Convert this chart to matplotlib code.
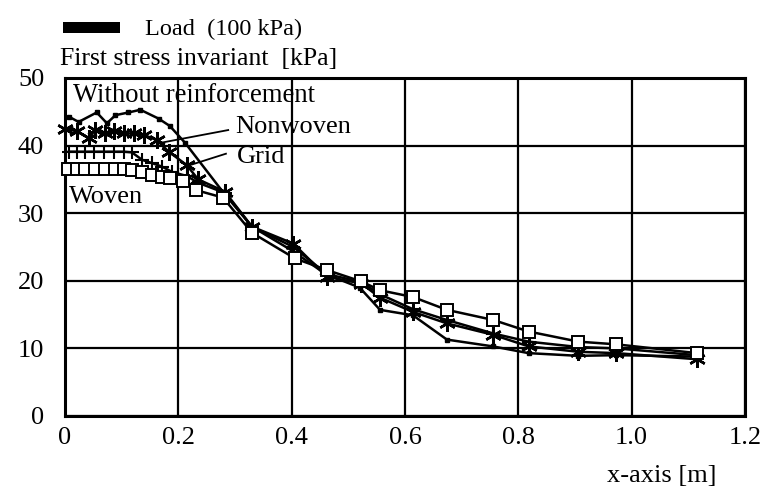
import matplotlib
matplotlib.use("Agg")
import matplotlib.pyplot as plt
from matplotlib.patches import Rectangle

plt.rcParams['font.family'] = ['Liberation Serif', 'DejaVu Serif']

# ---- data ----
x_without = [0.0065, 0.024, 0.056, 0.074, 0.089, 0.112, 0.133, 0.165, 0.185, 0.212,
             0.28, 0.33, 0.40, 0.46, 0.52, 0.556, 0.614, 0.674, 0.755, 0.818, 0.906, 0.973, 1.112]
y_without = [44.3, 43.5, 44.9, 43.3, 44.5, 44.9, 45.3, 44.0, 42.9, 40.4,
             33.0, 28.0, 24.5, 21.0, 19.0, 15.7, 14.9, 11.3, 10.3, 9.3, 8.9, 9.0, 8.8]

x_nonwoven = [0.0, 0.021, 0.042, 0.053, 0.071, 0.086, 0.104, 0.121, 0.139, 0.162, 0.183,
              0.215, 0.235, 0.282, 0.33, 0.403, 0.462, 0.523, 0.556, 0.614, 0.674, 0.756,
              0.818, 0.906, 0.973, 1.115]
y_nonwoven = [42.5, 42.1, 41.1, 42.3, 41.8, 42.1, 41.8, 41.8, 41.6, 40.8, 39.1,
              37.1, 35.0, 33.2, 28.0, 25.5, 20.6, 19.6, 17.5, 15.4, 13.7, 12.0,
              10.3, 9.5, 9.3, 8.4]

x_grid = [0.0065, 0.021, 0.036, 0.051, 0.068, 0.086, 0.104, 0.118, 0.136, 0.154, 0.171,
          0.189, 0.215, 0.235, 0.282, 0.33, 0.403, 0.462, 0.523, 0.556, 0.614, 0.674,
          0.756, 0.818, 0.906, 0.973, 1.115]
y_grid = [39.1, 39.1, 39.1, 39.1, 39.1, 39.1, 39.1, 39.0, 37.9, 37.4, 36.9,
          36.1, 35.5, 34.5, 33.0, 28.0, 25.0, 21.0, 19.8, 18.0, 15.8, 14.2,
          12.2, 11.0, 10.2, 10.0, 9.0]

x_woven = [0.006, 0.021, 0.036, 0.053, 0.071, 0.089, 0.104, 0.118, 0.136, 0.154, 0.171,
           0.186, 0.209, 0.232, 0.279, 0.33, 0.406, 0.462, 0.523, 0.556, 0.614, 0.674,
           0.756, 0.818, 0.906, 0.973, 1.115]
y_woven = [36.6, 36.6, 36.6, 36.6, 36.6, 36.6, 36.5, 36.4, 36.1, 35.7, 35.4,
           35.2, 34.7, 33.4, 32.3, 27.1, 23.3, 21.6, 19.9, 18.6, 17.6, 15.7,
           14.2, 12.5, 11.0, 10.6, 9.3]

x_ticks = [0, 0.2, 0.4, 0.6, 0.8, 1.0, 1.2]
x_ticklabels = ['0', '0.2', '0.4', '0.6', '0.8', '1.0', '1.2']
y_ticks = [0, 10, 20, 30, 40, 50]
y_ticklabels = ['0', '10', '20', '30', '40', '50']

# pointer lines for labels (data coords)
nonwoven_ptr_x = [0.288, 0.168]
nonwoven_ptr_y = [42.3, 40.4]
grid_ptr_x = [0.284, 0.220]
grid_ptr_y = [38.8, 37.1]

W, H = 763, 487
fig = plt.figure(figsize=(W / 100, H / 100), dpi=100)
fig.patch.set_facecolor('white')

def fx(px):
    return px / W

def fy(py):
    return 1 - py / H

ax = fig.add_axes([fx(65), fy(416), fx(745) - fx(65), fy(78) - fy(416)])
ax.set_xlim(0, 1.2)
ax.set_ylim(0, 50)
ax.set_xticks(x_ticks)
ax.set_xticklabels(x_ticklabels)
ax.set_yticks(y_ticks)
ax.set_yticklabels(y_ticklabels)
ax.tick_params(length=0, labelsize=19, colors='black')
ax.tick_params(axis='x', pad=8)
ax.tick_params(axis='y', pad=15)
ax.grid(True, color='black', linewidth=1.6)
ax.set_axisbelow(True)
for s in ax.spines.values():
    s.set_linewidth(2.2)
    s.set_color('black')

lw = 1.8
ax.plot(x_without, y_without, color='black', lw=lw, marker='s', ms=3.5,
        mfc='black', mec='black', clip_on=False, zorder=5)
ax.plot(x_nonwoven, y_nonwoven, color='black', lw=lw, marker=(6, 2, 0), ms=12,
        mew=1.8, mec='black', clip_on=False, zorder=5)
ax.plot(x_grid, y_grid, color='black', lw=lw, marker='+', ms=10,
        mew=1.5, mec='black', clip_on=False, zorder=5)
ax.plot(x_woven, y_woven, color='black', lw=lw, marker='s', ms=8,
        mfc='white', mec='black', mew=1.4, clip_on=False, zorder=5)

ax.plot(nonwoven_ptr_x, nonwoven_ptr_y, color='black', lw=1.3, zorder=6)
ax.plot(grid_ptr_x, grid_ptr_y, color='black', lw=1.3, zorder=6)

# texts in figure pixel coordinates
def ftext(px, py, s, size):
    fig.text(fx(px), fy(py), s, fontsize=size, ha='left', va='baseline', color='black', zorder=10)

fig.patches.append(Rectangle((fx(63), fy(33)), fx(120) - fx(63), fy(22) - fy(33),
                             transform=fig.transFigure, facecolor='black', edgecolor='none'))
ftext(145, 35, 'Load  (100 kPa)', 17.5)
ftext(60, 65, 'First stress invariant  [kPa]', 18.5)
ftext(73, 102, 'Without reinforcement', 19.2)
ftext(235, 133, 'Nonwoven', 19)
ftext(237, 163, 'Grid', 19)
ftext(69, 203, 'Woven', 19)
ftext(607, 482, 'x-axis [m]', 19)

fig.savefig('out.png', dpi=100)
